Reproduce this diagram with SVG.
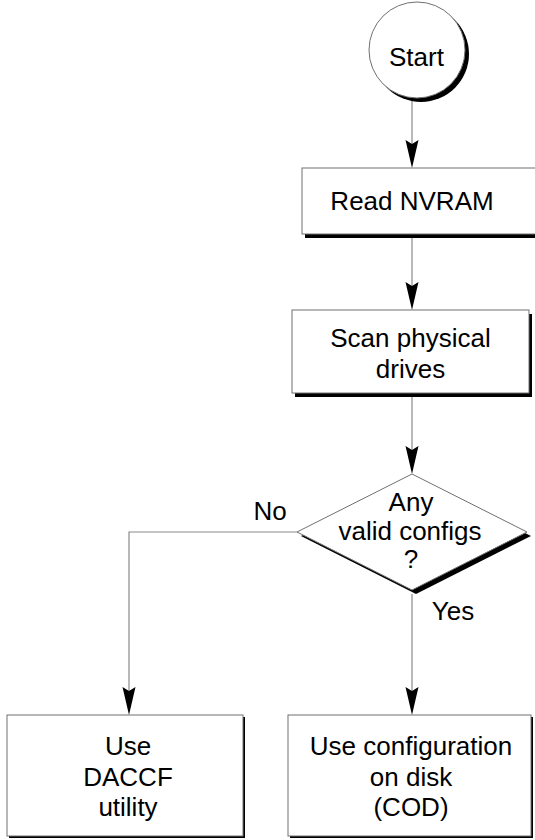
<svg xmlns="http://www.w3.org/2000/svg" width="535" height="840" viewBox="0 0 535 840">
<style>
.bg{fill:#ffffff}
.box{fill:#ffffff;stroke:#707070;stroke-width:1}
.sh{fill:#000000}
.ln{fill:none;stroke:#8a8a8a;stroke-width:1.2}
.ah{fill:#000000}
text{font-family:"Liberation Sans",Arial,sans-serif;font-size:26px;fill:#000000;text-anchor:middle}
</style>
<rect class="bg" x="0" y="0" width="535" height="840"/>
<g id="connectors">
<line class="ln" x1="412" y1="98" x2="412" y2="145"/>
<polygon class="ah" points="412,168 405.5,140 412,144 418.5,140"/>
<line class="ln" x1="412" y1="238" x2="412" y2="287"/>
<polygon class="ah" points="412,310 405.5,282 412,286 418.5,282"/>
<line class="ln" x1="412" y1="397" x2="412" y2="450"/>
<polygon class="ah" points="412,474 405.5,446 412,450 418.5,446"/>
<polyline class="ln" points="297,532 129,532 129,692"/>
<polygon class="ah" points="129,715 122.5,687 129,691 135.5,687"/>
<line class="ln" x1="412" y1="594" x2="412" y2="692"/>
<polygon class="ah" points="412,715 405.5,687 412,691 418.5,687"/>
<text x="270" y="520">No</text>
<text x="453" y="620">Yes</text>
</g>
<g id="start">
<circle class="sh" cx="421" cy="54" r="48"/>
<circle class="box" cx="417" cy="50" r="48"/>
<text x="416.5" y="66">Start</text>
</g>
<g id="read-nvram">
<rect class="sh" x="305" y="172" width="235" height="66"/>
<rect class="box" x="302" y="168" width="234" height="66"/>
<text x="412" y="210">Read NVRAM</text>
</g>
<g id="scan-drives">
<rect class="sh" x="295" y="314" width="237" height="83"/>
<rect class="box" x="292" y="310" width="237" height="83"/>
<text x="410.5" y="347">Scan physical</text>
<text x="410.5" y="378">drives</text>
</g>
<g id="decision">
<polygon class="sh" points="416,478 531,536 416,594 301,536"/>
<polygon class="box" points="412,474 527,532 412,590 297,532"/>
<text x="411" y="511">Any</text>
<text x="410" y="540">valid configs</text>
<text x="411" y="568">?</text>
</g>
<g id="use-daccf">
<rect class="sh" x="9" y="717" width="236" height="121"/>
<rect class="box" x="7" y="715" width="236" height="121"/>
<text x="128" y="755">Use</text>
<text x="128" y="786">DACCF</text>
<text x="128" y="816">utility</text>
</g>
<g id="use-cod">
<rect class="sh" x="290" y="717" width="243" height="121"/>
<rect class="box" x="288" y="715" width="243" height="121"/>
<text x="411" y="755">Use configuration</text>
<text x="411" y="786">on disk</text>
<text x="411" y="816">(COD)</text>
</g>
</svg>
